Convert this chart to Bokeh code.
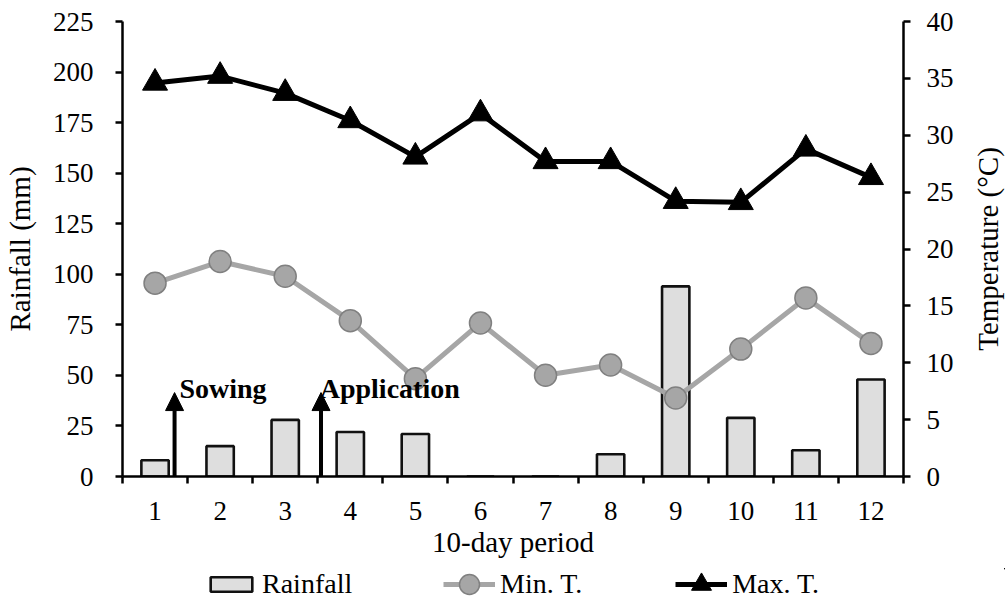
import math
from bokeh.plotting import figure
from bokeh.layouts import column, row
from bokeh.models import (Range1d, LinearAxis, FixedTicker, Legend, LegendItem,
                          Arrow, NormalHead, Label)
from bokeh.embed import file_html
from bokeh.resources import INLINE

periods = [1, 2, 3, 4, 5, 6, 7, 8, 9, 10, 11, 12]
rainfall = [8, 15, 28, 22, 21, 0, 0, 11, 94, 29, 13, 48]
min_t = [17.0, 18.9, 17.6, 13.7, 8.6, 13.5, 8.9, 9.8, 6.9, 11.2, 15.7, 11.7]
max_t = [34.6, 35.2, 33.7, 31.3, 28.1, 31.9, 27.7, 27.7, 24.2, 24.1, 28.8, 26.3]
rain_ticks = [0, 25, 50, 75, 100, 125, 150, 175, 200, 225]
temp_ticks = [0, 5, 10, 15, 20, 25, 30, 35, 40]
events = ["Sowing", "Application"]
event_x = [1.30, 3.55]
event_label_x = [1.375, 3.53]

FONT = "Liberation Serif"
BAR_STYLE = dict(fill_color="#dedede", line_color="#111111", line_width=2.6)
MIN_LINE = dict(line_color="#a6a6a6", line_width=5)
MIN_PTS = dict(marker="circle", fill_color="#a6a6a6", line_color="#808080", line_width=1.5)
MAX_LINE = dict(line_color="black", line_width=5)
MAX_PTS = dict(marker="triangle", fill_color="black", line_color="black")

MAIN_H = 568
MAIN_W = 963
TOP, BOTTOM = 21, 92

p = figure(width=MAIN_W, height=MAIN_H, output_backend="svg", toolbar_location=None,
           x_range=Range1d(0.5, 12.5), y_range=Range1d(0, 225),
           min_border_left=121, min_border_right=60, min_border_top=TOP,
           min_border_bottom=BOTTOM)
p.extra_y_ranges = {"temp": Range1d(0, 40)}
p.outline_line_color = None
p.xgrid.visible = False
p.ygrid.visible = False

def style_axis(ax):
    ax.axis_line_width = 2.5
    ax.axis_line_color = "black"
    ax.major_tick_line_width = 2.5
    ax.major_tick_line_color = "black"
    ax.major_tick_in = 0
    ax.major_tick_out = 7
    ax.minor_tick_line_color = None
    ax.major_label_text_font = FONT
    ax.major_label_text_font_size = "27px"
    ax.major_label_text_color = "black"
    ax.axis_label_text_font = FONT
    ax.axis_label_text_font_size = "29px"
    ax.axis_label_text_font_style = "normal"
    ax.axis_label_text_color = "black"

xa = p.xaxis[0]
style_axis(xa)
xa.ticker = FixedTicker(ticks=periods, minor_ticks=[x - 0.5 for x in periods] + [12.5])
xa.major_tick_line_color = None
xa.major_tick_out = 6
xa.minor_tick_line_color = "black"
xa.minor_tick_line_width = 2.5
xa.minor_tick_in = 0
xa.minor_tick_out = 7
xa.major_label_standoff = 18
xa.axis_label = "10-day period"
xa.axis_label_standoff = 3

ya = p.yaxis[0]
style_axis(ya)
ya.ticker = FixedTicker(ticks=rain_ticks)
ya.major_label_standoff = 22
ya.axis_label = "Rainfall (mm)"
ya.axis_label_standoff = 14

ra = LinearAxis(y_range_name="temp")
style_axis(ra)
ra.ticker = FixedTicker(ticks=temp_ticks)
ra.major_label_standoff = 16
p.add_layout(ra, "right")

bars = p.vbar(x=periods, top=rainfall, width=0.42, bottom=0, **BAR_STYLE)
p.line(periods, min_t, y_range_name="temp", **MIN_LINE)
p.scatter(periods, min_t, y_range_name="temp", size=22, **MIN_PTS)
p.line(periods, max_t, y_range_name="temp", **MAX_LINE)
p.scatter(periods, max_t, y_range_name="temp", size=25, **MAX_PTS)

for ex, lx, name in zip(event_x, event_label_x, events):
    p.add_layout(Arrow(x_start=ex, y_start=0, x_end=ex, y_end=41.5,
                       line_color="black", line_width=4,
                       end=NormalHead(size=18, fill_color="black", line_color="black")))
    p.add_layout(Label(x=lx, y=43.5, text=name, text_font=FONT,
                       text_font_size="28px", text_font_style="bold",
                       text_color="black", text_baseline="alphabetic"))

# right-hand axis title: a label-only axis in a narrow strip (reads bottom-to-top)
strip = figure(width=1005 - MAIN_W, height=MAIN_H, output_backend="svg",
               toolbar_location=None, x_range=Range1d(0, 1), y_range=Range1d(0, 40),
               min_border_left=40, min_border_right=0, min_border_top=TOP,
               min_border_bottom=BOTTOM, x_axis_location=None, y_axis_location="left")
strip.outline_line_color = None
strip.grid.visible = False
sa = strip.yaxis[0]
sa.ticker = FixedTicker(ticks=[])
sa.axis_line_color = None
sa.major_tick_line_color = None
sa.minor_tick_line_color = None
sa.major_tick_out = 0
sa.major_tick_in = 0
sa.major_label_standoff = 0
sa.axis_label = "Temperature (°C)"
sa.axis_label_standoff = 0
sa.axis_label_text_font = FONT
sa.axis_label_text_font_size = "29px"
sa.axis_label_text_font_style = "normal"
sa.axis_label_text_color = "black"

# legend strip
lf = figure(width=1005, height=600 - MAIN_H, output_backend="svg", toolbar_location=None,
            x_range=Range1d(-20, -10), y_range=Range1d(-20, -10), min_border=0,
            x_axis_location=None, y_axis_location=None)
lf.outline_line_color = None
lf.grid.visible = False
l_bars = lf.vbar(x=periods, top=rainfall, width=0.42, bottom=0, **BAR_STYLE)
l_min_line = lf.line(periods, min_t, **MIN_LINE)
l_min_pts = lf.scatter(periods, min_t, size=22, **MIN_PTS)
l_max_line = lf.line(periods, max_t, **MAX_LINE)
l_max_pts = lf.scatter(periods, max_t, size=25, **MAX_PTS)

def style_legend(lg):
    lg.label_text_font = FONT
    lg.label_text_font_size = "28px"
    lg.label_text_color = "black"
    lg.glyph_width = 52
    lg.label_standoff = 5
    lg.padding = 0
    lg.margin = 0
    lg.border_line_color = None
    lg.background_fill_alpha = 0

leg1 = Legend(items=[LegendItem(label="Rainfall", renderers=[l_bars])],
              orientation="horizontal", location=(205, 0))
style_legend(leg1)
leg1.glyph_height = 18
leg2 = Legend(items=[LegendItem(label="Min. T.", renderers=[l_min_line, l_min_pts]),
                     LegendItem(label="Max. T.", renderers=[l_max_line, l_max_pts])],
              orientation="horizontal", location=(443, -9))
style_legend(leg2)
leg2.glyph_height = 50
leg2.spacing = 93
lf.add_layout(leg1, "center")
lf.add_layout(leg2, "center")

layout = column(row(p, strip, spacing=0), lf, spacing=0)
open("out.html", "w").write(file_html(layout, INLINE))
